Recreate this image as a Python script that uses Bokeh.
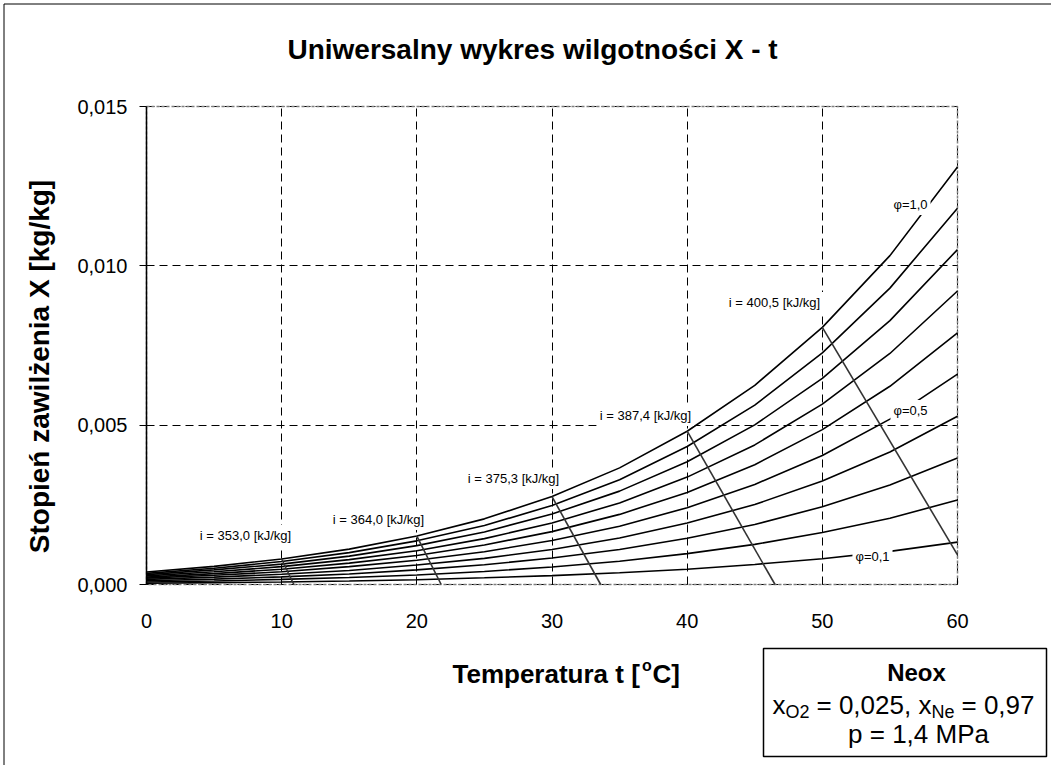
import math
from bokeh.plotting import figure
from bokeh.models import Range1d, FixedTicker, CustomJSTickFormatter, Label, BoxAnnotation
from bokeh.embed import file_html
from bokeh.resources import INLINE

# ---------------- data ----------------
t_values = [0, 5, 10, 15, 20, 25, 30, 35, 40, 45, 50, 55, 60]

X_phi_10 = [0.00039, 0.00057, 0.00080, 0.00111, 0.00152, 0.00206, 0.00276, 0.00366, 0.00481, 0.00625, 0.00807, 0.01032, 0.01310]
X_phi_09 = [0.00035, 0.00051, 0.00072, 0.00100, 0.00137, 0.00185, 0.00248, 0.00329, 0.00433, 0.00563, 0.00727, 0.00930, 0.01181]
X_phi_08 = [0.00031, 0.00046, 0.00064, 0.00089, 0.00122, 0.00165, 0.00221, 0.00293, 0.00385, 0.00501, 0.00647, 0.00828, 0.01051]
X_phi_07 = [0.00027, 0.00040, 0.00056, 0.00078, 0.00106, 0.00144, 0.00193, 0.00256, 0.00337, 0.00438, 0.00566, 0.00725, 0.00921]
X_phi_06 = [0.00023, 0.00034, 0.00048, 0.00067, 0.00091, 0.00124, 0.00166, 0.00220, 0.00289, 0.00376, 0.00486, 0.00622, 0.00790]
X_phi_05 = [0.00020, 0.00029, 0.00040, 0.00056, 0.00076, 0.00103, 0.00138, 0.00183, 0.00241, 0.00314, 0.00405, 0.00519, 0.00660]
X_phi_04 = [0.00016, 0.00023, 0.00032, 0.00044, 0.00061, 0.00082, 0.00110, 0.00146, 0.00193, 0.00251, 0.00325, 0.00416, 0.00528]
X_phi_03 = [0.00012, 0.00017, 0.00024, 0.00033, 0.00046, 0.00062, 0.00083, 0.00110, 0.00145, 0.00188, 0.00244, 0.00312, 0.00397]
X_phi_02 = [0.00008, 0.00011, 0.00016, 0.00022, 0.00030, 0.00041, 0.00055, 0.00073, 0.00097, 0.00126, 0.00163, 0.00208, 0.00265]
X_phi_01 = [0.00004, 0.00006, 0.00008, 0.00011, 0.00015, 0.00021, 0.00028, 0.00037, 0.00048, 0.00063, 0.00081, 0.00104, 0.00133]

phi_curves = [X_phi_10, X_phi_09, X_phi_08, X_phi_07, X_phi_06,
              X_phi_05, X_phi_04, X_phi_03, X_phi_02, X_phi_01]

# lines of constant enthalpy
isenthalp_labels = ["i = 353,0 [kJ/kg]", "i = 364,0 [kJ/kg]", "i = 375,3 [kJ/kg]",
                    "i = 387,4 [kJ/kg]", "i = 400,5 [kJ/kg]"]
isenthalp_t_start = [10.0, 20.0, 30.0, 40.0, 50.0]
isenthalp_X_start = [0.00080, 0.00152, 0.00276, 0.00481, 0.00807]
isenthalp_t_end = [10.9, 21.8, 33.6, 46.5, 60.0]
isenthalp_X_end = [0.0, 0.0, 0.0, 0.0, 0.00093]

x_ticks = [0, 10, 20, 30, 40, 50, 60]
y_ticks = [0.0, 0.005, 0.010, 0.015]
x_lim = (0, 60)
y_lim = (0.0, 0.015)

phi_label_texts = ["\u03c6=1,0", "\u03c6=0,5", "\u03c6=0,1"]

# ---------------- layout helpers (page pixels -> data coords) ----------------
FX0, FX1, FY0, FY1 = 146.0, 957.0, 106.0, 584.0   # plot area on the page


def tx(px):
    return (px - FX0) * 60.0 / (FX1 - FX0)


def ty(py):
    return (FY1 - py) * 0.015 / (FY1 - FY0)


W, H = 1051, 765   # canvas starts at page (0, 0)
FONT = "Liberation Sans"

# the frame covers the whole canvas; axes are fixed at the data origin
p = figure(width=W, height=H,
           x_range=Range1d(tx(0), tx(W)), y_range=Range1d(ty(H), ty(0)),
           output_backend="svg", toolbar_location=None,
           min_border_left=0, min_border_right=0,
           min_border_top=0, min_border_bottom=0)

p.background_fill_color = "white"
p.border_fill_color = "white"
p.outline_line_color = None

# axes
p.xaxis.fixed_location = 0
p.yaxis.fixed_location = 0
p.xaxis.bounds = x_lim
p.yaxis.bounds = y_lim
p.xaxis.ticker = FixedTicker(ticks=x_ticks)
p.yaxis.ticker = FixedTicker(ticks=y_ticks)
p.yaxis.formatter = CustomJSTickFormatter(code="return tick.toFixed(3).replace('.', ',');")
for ax in (p.xaxis, p.yaxis):
    ax.major_label_text_font = FONT
    ax.major_label_text_font_size = "20px"
    ax.major_label_text_color = "black"
    ax.minor_tick_line_color = None
    ax.major_tick_line_color = "black"
    ax.major_tick_line_width = 1
p.xaxis.axis_line_color = None
p.xaxis.major_tick_in = 6
p.xaxis.major_tick_out = 0
p.xaxis.major_label_standoff = 29
p.yaxis.axis_line_color = "black"
p.yaxis.axis_line_width = 1.5
p.yaxis.major_tick_in = 0
p.yaxis.major_tick_out = 7
p.yaxis.major_label_standoff = 12

# grid limited to the plot area
grid_ok = True
try:
    p.xgrid.bounds = x_lim
    p.ygrid.bounds = y_lim
    p.xgrid.cross_bounds = y_lim
    p.ygrid.cross_bounds = x_lim
except Exception:
    grid_ok = False

if grid_ok:
    for g in (p.xgrid, p.ygrid):
        g.grid_line_color = "black"
        g.grid_line_dash = "8 5"
        g.grid_line_width = 1
else:
    p.xgrid.visible = False
    p.ygrid.visible = False
    p.segment(x0=x_ticks, y0=[y_lim[0]] * len(x_ticks), x1=x_ticks, y1=[y_lim[1]] * len(x_ticks),
              line_color="black", line_dash="8 5", line_width=1)
    p.segment(x0=[x_lim[0]] * len(y_ticks), y0=y_ticks, x1=[x_lim[1]] * len(y_ticks), y1=y_ticks,
              line_color="black", line_dash="8 5", line_width=1)

# outer chart border
p.add_layout(BoxAnnotation(left=tx(3.5), top=ty(3.5), right=tx(W + 20), bottom=ty(H + 20),
                           fill_alpha=0, line_color="black", line_alpha=1.0,
                           line_width=1, level="underlay"))

# plot-area border (grey, dotted)
p.add_layout(BoxAnnotation(left=x_lim[0], right=x_lim[1], bottom=y_lim[0], top=y_lim[1],
                           fill_alpha=0, line_color="#808080", line_alpha=1.0,
                           line_dash="3 2", line_width=1.5, level="underlay"))

# curves
for ys in phi_curves:
    p.line(t_values, ys, line_color="black", line_width=1.6)

p.segment(x0=isenthalp_t_start, y0=isenthalp_X_start,
          x1=isenthalp_t_end, y1=isenthalp_X_end,
          line_color="#333333", line_width=1.6)


def lab(text, px, py, size, bold=False, align="center", angle=0.0, bg=None, pad=0):
    kw = {}
    if bg is not None:
        kw.update(background_fill_color=bg, background_fill_alpha=1.0, padding=pad)
    l = Label(x=tx(px), y=ty(py), x_units="data", y_units="data", text=text,
              text_font=FONT, text_font_size=f"{size}px",
              text_font_style="bold" if bold else "normal",
              text_color="black", text_align=align, text_baseline="middle",
              angle=angle, **kw)
    p.add_layout(l)
    return l


# isenthalp labels
iso_label_pos = [(245, 535), (378, 519), (513, 478), (645, 415), (774, 302)]
for txt, (px, py) in zip(isenthalp_labels, iso_label_pos):
    lab(txt, px, py, 13, bg="white", pad=3)

# phi labels
phi_label_pos = [(910, 204), (910, 410), (872, 556)]
for txt, (px, py) in zip(phi_label_texts, phi_label_pos):
    lab(txt, px, py, 13, bg="white", pad=3)

# title and axis titles
lab("Uniwersalny wykres wilgotno\u015bci X - t", 532, 49, 28, bold=True)
lab("Stopie\u0144 zawil\u017cenia X [kg/kg]", 39, 366, 28, bold=True, angle=math.pi / 2)
lab("Temperatura t [", 452, 673, 26, bold=True, align="left")
lab("o", 641.5, 665, 16, bold=True, align="left")
lab("C]", 652, 673, 26, bold=True, align="left")

# info box
p.add_layout(BoxAnnotation(left=tx(763), right=tx(1046), top=ty(648), bottom=ty(756),
                           fill_color="white", fill_alpha=1.0,
                           line_color="black", line_alpha=1.0, line_width=1.5))
lab("Neox", 916, 672, 24, bold=True)
lab("x", 772, 704, 26, align="left")
lab("O2", 785, 711, 18, align="left")
lab("= 0,025, x", 816, 704, 26, align="left")
lab("Ne", 931, 711, 18, align="left")
lab("= 0,97", 961, 704, 26, align="left")
lab("p = 1,4 MPa", 918, 733, 26)

open("out.html", "w").write(file_html(p, INLINE))
